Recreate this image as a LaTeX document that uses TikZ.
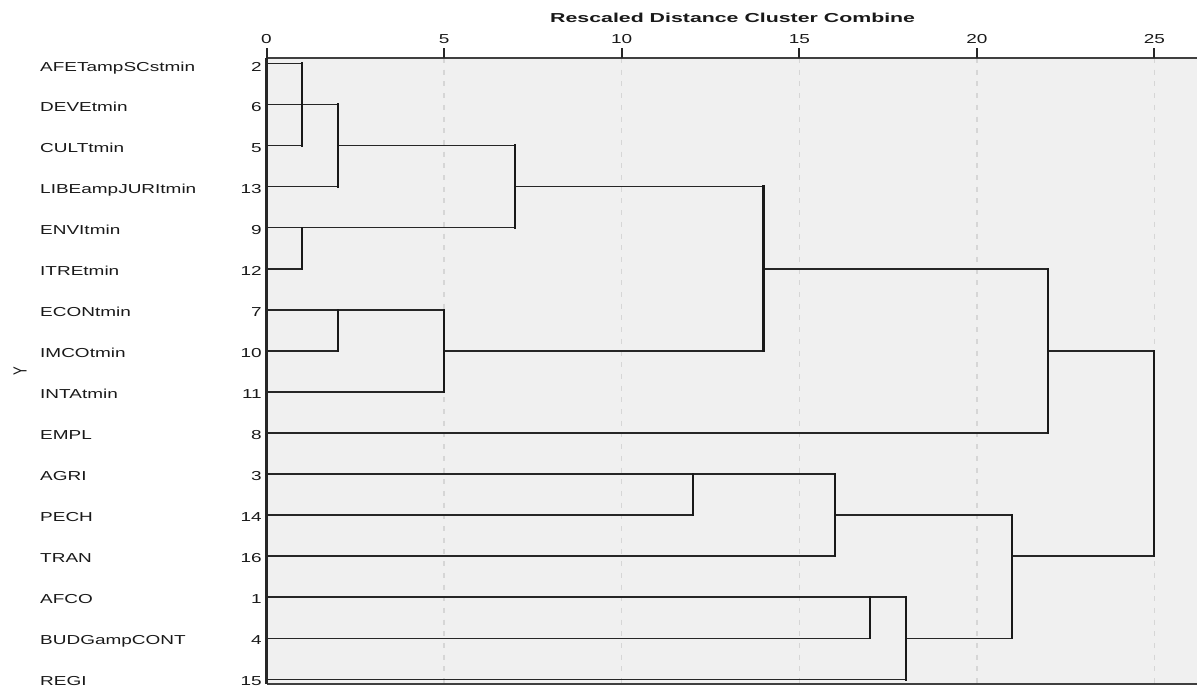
\documentclass[tikz,border=0pt]{standalone}
\usepackage{graphicx}
\usepackage{fontspec}
\setmainfont{Liberation Sans}
\newcommand\sxt[1]{\scalebox{1.46}[1]{#1}}
\begin{document}
\begin{tikzpicture}[x=1pt,y=-1pt,
  hl/.style={line width=1.6pt, draw=black!85},
  vl/.style={line width=2.2pt, draw=black!90, line cap=rect},
  gridline/.style={line width=1.4pt, draw=black!16, dash pattern=on 5pt off 6.7pt},
  axisline/.style={line width=2.2pt, draw=black!85},
  tickmark/.style={line width=2pt, draw=black!85},
  lab/.style={inner sep=0pt, font=\fontsize{13}{13}\selectfont, text=black!90, anchor=base west},
  num/.style={inner sep=0pt, font=\fontsize{13}{13}\selectfont, text=black!90, anchor=base east},
  ticklab/.style={inner sep=0pt, font=\fontsize{13}{13}\selectfont, text=black!90, anchor=base},
]
\useasboundingbox (0,0) rectangle (1197,689);
\begin{scope}
\clip (0,0) rectangle (1197,689);
% plot background
\fill[fill={rgb,255:red,240;green,240;blue,240}] (266.5,58) rectangle (1210,684);
% distance positions
\coordinate (d0) at (266.5,58);
\coordinate (d1) at (302,58);
\coordinate (d2) at (338,58);
\coordinate (d5) at (444.1,58);
\coordinate (d7) at (515,58);
\coordinate (d10) at (621.7,58);
\coordinate (d12) at (692.7,58);
\coordinate (d14) at (763.5,58);
\coordinate (d15) at (799.3,58);
\coordinate (d16) at (835,58);
\coordinate (d17) at (870.3,58);
\coordinate (d18) at (905.9,58);
\coordinate (d20) at (976.9,58);
\coordinate (d21) at (1012,58);
\coordinate (d22) at (1047.8,58);
\coordinate (d25) at (1154.3,58);
\coordinate (bot) at (266.5,684);
% grid
\foreach \g in {d5,d10,d15,d20,d25} \draw[gridline] (\g) -- (\g |- bot);
% leaves
\coordinate (L0) at (266.5,63.3);
\coordinate (L1) at (266.5,104.4);
\coordinate (L2) at (266.5,145.4);
\coordinate (L3) at (266.5,186.5);
\coordinate (L4) at (266.5,227.6);
\coordinate (L5) at (266.5,268.7);
\coordinate (L6) at (266.5,309.7);
\coordinate (L7) at (266.5,350.8);
\coordinate (L8) at (266.5,391.9);
\coordinate (L9) at (266.5,432.9);
\coordinate (L10) at (266.5,474.0);
\coordinate (L11) at (266.5,515.1);
\coordinate (L12) at (266.5,556.1);
\coordinate (L13) at (266.5,597.2);
\coordinate (L14) at (266.5,638.3);
\coordinate (L15) at (266.5,679.4);
% horizontals
\draw[hl] (L0) -- (L0-|d1);
\draw[hl] (L2) -- (L2-|d1);
\draw[hl] (L1) -- (L1-|d2);
\draw[hl] (L3) -- (L3-|d2);
\draw[hl] (L2-|d2) -- (L2-|d7);
\draw[hl] (L4) -- (L4-|d7);
\draw[hl] (L5) -- (L5-|d1);
\draw[hl] (L3-|d7) -- (L3-|d14);
\draw[hl] (L6) -- (L6-|d5);
\draw[hl] (L7) -- (L7-|d2);
\draw[hl] (L8) -- (L8-|d5);
\draw[hl] (L7-|d5) -- (L7-|d14);
\draw[hl] (L5-|d14) -- (L5-|d22);
\draw[hl] (L9) -- (L9-|d22);
\draw[hl] (L7-|d22) -- (L7-|d25);
\draw[hl] (L10) -- (L10-|d16);
\draw[hl] (L11) -- (L11-|d12);
\draw[hl] (L12) -- (L12-|d16);
\draw[hl] (L11-|d16) -- (L11-|d21);
\draw[hl] (L13) -- (L13-|d17);
\draw[hl] (L14) -- (L14-|d17);
\draw[hl] (L13-|d17) -- (L13-|d18);
\draw[hl] (L15) -- (L15-|d18);
\draw[hl] (L14-|d18) -- (L14-|d21);
\draw[hl] (L12-|d21) -- (L12-|d25);
% verticals
\draw[vl] (L0-|d1) -- (L2-|d1);
\draw[vl] (L1-|d2) -- (L3-|d2);
\draw[vl] (L2-|d7) -- (L4-|d7);
\draw[vl] (L4-|d1) -- (L5-|d1);
\draw[vl] (L6-|d2) -- (L7-|d2);
\draw[vl] (L6-|d5) -- (L8-|d5);
\draw[vl] (L3-|d14) -- (L7-|d14);
\draw[vl] (L5-|d22) -- (L9-|d22);
\draw[vl] (L7-|d25) -- (L12-|d25);
\draw[vl] (L10-|d12) -- (L11-|d12);
\draw[vl] (L10-|d16) -- (L12-|d16);
\draw[vl] (L13-|d17) -- (L14-|d17);
\draw[vl] (L13-|d18) -- (L15-|d18);
\draw[vl] (L11-|d21) -- (L14-|d21);
% axes
\draw[line width=1.3pt, draw=black!75] (bot) -- (bot -| 1210,0);
\draw[line width=1.9pt, draw=black!75] (d0) -- (1210,58);
\draw[axisline] (d0) -- (bot);
\foreach \g in {d0,d5,d10,d15,d20,d25} \draw[tickmark] (\g) -- ++(0,-10);
\end{scope}
% tick labels
\node[ticklab] (t0) at (266.5,43) {\sxt{0}};
\node[ticklab] (t5) at (444.1,43) {\sxt{5}};
\node[ticklab] (t10) at (621.7,43) {\sxt{10}};
\node[ticklab] (t15) at (799.3,43) {\sxt{15}};
\node[ticklab] (t20) at (976.9,43) {\sxt{20}};
\node[ticklab] (t25) at (1154.3,43) {\sxt{25}};
% title
\node[lab] (title) at (550,22.7) {\scalebox{1.64}[1]{\bfseries Rescaled Distance Cluster Combine}};
% y label
\node[inner sep=0pt, font=\fontsize{13}{13}\selectfont, text=black!90] (ylab) at (20,371) {\scalebox{1.46}[1]{\rotatebox{90}{Y}}};
% row labels
\node[lab] (n0) at (40,71.0) {\sxt{AFETampSCstmin}};
\node[lab] (n1) at (40,111.9) {\sxt{DEVEtmin}};
\node[lab] (n2) at (40,152.9) {\sxt{CULTtmin}};
\node[lab] (n3) at (40,193.8) {\sxt{LIBEampJURItmin}};
\node[lab] (n4) at (40,234.7) {\sxt{ENVItmin}};
\node[lab] (n5) at (40,275.7) {\sxt{ITREtmin}};
\node[lab] (n6) at (40,316.6) {\sxt{ECONtmin}};
\node[lab] (n7) at (40,357.5) {\sxt{IMCOtmin}};
\node[lab] (n8) at (40,398.4) {\sxt{INTAtmin}};
\node[lab] (n9) at (40,439.4) {\sxt{EMPL}};
\node[lab] (n10) at (40,480.3) {\sxt{AGRI}};
\node[lab] (n11) at (40,521.2) {\sxt{PECH}};
\node[lab] (n12) at (40,562.2) {\sxt{TRAN}};
\node[lab] (n13) at (40,603.1) {\sxt{AFCO}};
\node[lab] (n14) at (40,644.0) {\sxt{BUDGampCONT}};
\node[lab] (n15) at (40,685.0) {\sxt{REGI}};
% case numbers
\node[num] (c0) at (262,71.0) {\sxt{2}};
\node[num] (c1) at (262,111.9) {\sxt{6}};
\node[num] (c2) at (262,152.9) {\sxt{5}};
\node[num] (c3) at (262,193.8) {\sxt{13}};
\node[num] (c4) at (262,234.7) {\sxt{9}};
\node[num] (c5) at (262,275.7) {\sxt{12}};
\node[num] (c6) at (262,316.6) {\sxt{7}};
\node[num] (c7) at (262,357.5) {\sxt{10}};
\node[num] (c8) at (262,398.4) {\sxt{11}};
\node[num] (c9) at (262,439.4) {\sxt{8}};
\node[num] (c10) at (262,480.3) {\sxt{3}};
\node[num] (c11) at (262,521.2) {\sxt{14}};
\node[num] (c12) at (262,562.2) {\sxt{16}};
\node[num] (c13) at (262,603.1) {\sxt{1}};
\node[num] (c14) at (262,644.0) {\sxt{4}};
\node[num] (c15) at (262,685.0) {\sxt{15}};
\end{tikzpicture}
\end{document}
